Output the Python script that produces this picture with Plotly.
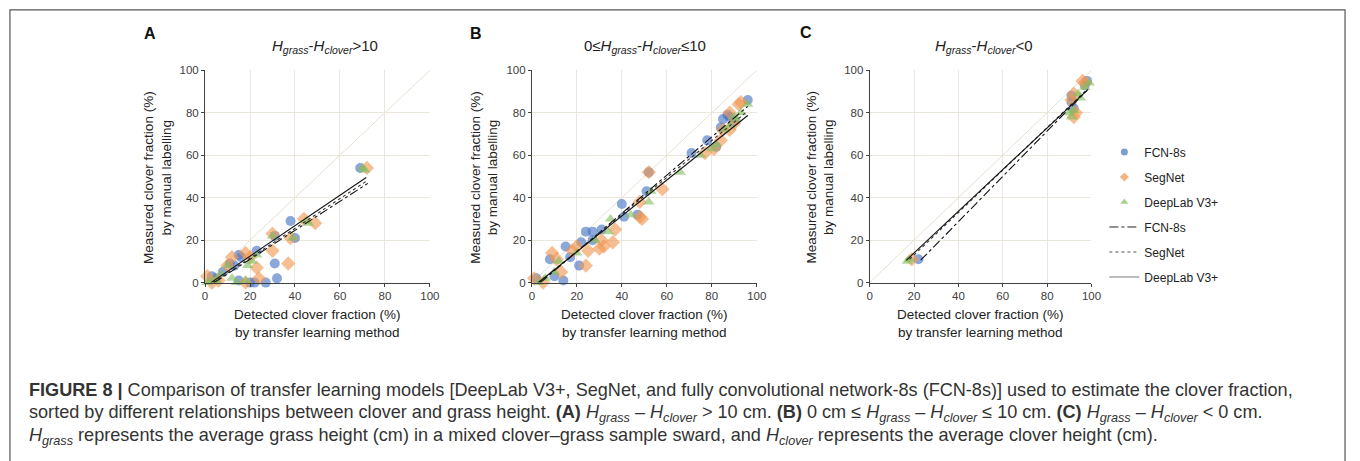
import plotly.graph_objects as go

W, H = 1360, 461

# ---------------- data ----------------
models = ["FCN-8s", "SegNet", "DeepLab V3+"]

# Panel A  (H_grass - H_clover > 10)
a_fcn_x = [69, 38, 40, 31, 31, 32, 27, 22, 15, 16, 15, 23, 11, 8, 3, 5, 20, 13]
a_fcn_y = [54, 29, 21, 22, 9, 2, 0, 0, 1, 12, 13, 15, 9, 5, 3, 2, 0, 8]
a_seg_x = [72, 44, 49, 37, 38, 30, 30, 23, 24, 18, 12, 1, 18, 6, 10, 20, 3]
a_seg_y = [54, 30, 28, 9, 21, 15, 23, 7, 2, 14, 12, 3, 0, 1, 8, 12, 0]
a_dl_x = [70, 71, 46, 45, 39, 30, 23, 19, 18, 10, 5, 1, 14, 12, 7, 3, 21]
a_dl_y = [54, 53, 28, 29, 21, 22, 13, 8, 1, 8, 1, 0, 0, 2, 4, 1, 10]

# Panel B  (0 <= H_grass - H_clover <= 10)
b_fcn_x = [96, 87, 85, 84, 78, 82, 71, 52, 51, 40, 41, 47, 27, 24, 22, 27, 31, 15, 8, 21, 14, 10, 2, 17, 88, 90]
b_fcn_y = [86, 79, 77, 73, 67, 64, 61, 52, 43, 37, 31, 32, 24, 24, 19, 20, 25, 17, 11, 8, 1, 3, 2, 12, 78, 76]
b_seg_x = [93, 88, 88, 84, 85, 77, 81, 52, 58, 48, 49, 48, 37, 36, 32, 30, 31, 25, 24, 18, 20, 9, 11, 13, 1, 5, 90, 92]
b_seg_y = [85, 80, 72, 67, 72, 61, 63, 52, 44, 31, 30, 38, 25, 19, 17, 16, 20, 15, 8, 15, 17, 14, 11, 5, 2, 0, 75, 84]
b_dl_x = [96, 90, 88, 86, 75, 80, 66, 52, 53, 44, 35, 34, 28, 20, 12, 10, 3, 6, 91, 93, 82]
b_dl_y = [84, 78, 74, 72, 60, 63, 52, 38, 43, 32, 30, 24, 20, 14, 10, 5, 0, 2, 77, 80, 65]

# Panel C  (H_grass - H_clover < 0)
c_fcn_x = [22, 91, 91, 92, 98, 97]
c_fcn_y = [11, 88, 85, 82, 95, 93]
c_seg_x = [19, 92, 93, 92, 96, 97, 91]
c_seg_y = [11, 89, 80, 78, 95, 94, 86]
c_dl_x = [17, 18, 91, 92, 94, 95, 99, 97, 90]
c_dl_y = [10, 11, 78, 81, 89, 87, 94, 92, 80]

# linear fits: slope, intercept, x start, x end  (order: FCN, SegNet, DeepLab)
a_fit_slope = [0.683, 0.700, 0.716]
a_fit_icpt = [-2.7, -2.45, -1.86]
a_fit_x0 = [4.0, 3.5, 2.6]
a_fit_x1 = [72.4, 72.0, 71.7]

b_fit_slope = [0.90, 0.87, 0.845]
b_fit_icpt = [-3.4, -2.7, -2.4]
b_fit_x0 = [3.8, 3.2, 2.9]
b_fit_x1 = [96.0, 96.0, 96.0]

c_fit_slope = [1.067, 1.0, 0.982]
c_fit_icpt = [-14.0, -7.0, -5.7]
c_fit_x0 = [23.0, 18.0, 16.5]
c_fit_x1 = [98.0, 98.0, 98.5]

ticks = [0, 20, 40, 60, 80, 100]
panel_letters = ["A", "B", "C"]
panel_titles = [
    "<i>H</i><sub><i>grass</i></sub>-<i>H</i><sub><i>clover</i></sub>&gt;10",
    "0≤<i>H</i><sub><i>grass</i></sub>-<i>H</i><sub><i>clover</i></sub>≤10",
    "<i>H</i><sub><i>grass</i></sub>-<i>H</i><sub><i>clover</i></sub>&lt;0",
]
x_title = "Detected clover fraction (%)<br>by transfer learning method"
y_title = "Measured clover fraction (%)<br>by manual labelling"

caption_lines = [
    "<b>FIGURE 8 |</b> Comparison of transfer learning models [DeepLab V3+, SegNet, and fully convolutional network-8s (FCN-8s)] used to estimate the clover fraction,",
    "sorted by different relationships between clover and grass height. <b>(A)</b> <i>H<sub>grass</sub></i> – <i>H<sub>clover</sub></i> &gt; 10 cm. "
    "<b>(B)</b> 0 cm ≤ <i>H<sub>grass</sub></i> – <i>H<sub>clover</sub></i> ≤ 10 cm. <b>(C)</b> <i>H<sub>grass</sub></i> – <i>H<sub>clover</sub></i> &lt; 0 cm.",
    "<i>H<sub>grass</sub></i> represents the average grass height (cm) in a mixed clover–grass sample sward, and <i>H<sub>clover</sub></i> represents the average clover height (cm).",
]

# ---------------- styles ----------------
FONT = "Liberation Sans, Arial, sans-serif"
marker_colors = ["rgba(70,114,196,0.62)", "rgba(240,150,80,0.62)", "rgba(130,190,95,0.62)"]
legend_marker_colors = ["rgba(70,114,196,0.7)", "rgba(240,150,80,0.7)", "rgba(130,190,95,0.7)"]
symbols = ["circle", "diamond", "triangle-up"]
msizes = [10, 11, 10]
dashes = ["dashdot", "dot", "solid"]
line_colors = ["#111111", "#333333", "#111111"]
legend_line_colors = ["#222222", "#555555", "#777777"]

# plot areas in pixels (left, right, top, bottom)
areas = [(204, 431), (534, 761), (875, 1099)]
top_px, bot_px = 66, 284

fig = go.Figure()

panels = [
    ([a_fcn_x, a_seg_x, a_dl_x], [a_fcn_y, a_seg_y, a_dl_y], a_fit_slope, a_fit_icpt, a_fit_x0, a_fit_x1),
    ([b_fcn_x, b_seg_x, b_dl_x], [b_fcn_y, b_seg_y, b_dl_y], b_fit_slope, b_fit_icpt, b_fit_x0, b_fit_x1),
    ([c_fcn_x, c_seg_x, c_dl_x], [c_fcn_y, c_seg_y, c_dl_y], c_fit_slope, c_fit_icpt, c_fit_x0, c_fit_x1),
]

for p, (xs, ys, sl, ic, x0s, x1s) in enumerate(panels):
    xa = "x" if p == 0 else f"x{p+1}"
    ya = "y" if p == 0 else f"y{p+1}"
    # 1:1 reference line
    fig.add_trace(go.Scatter(x=[0, 100], y=[0, 100], mode="lines", xaxis=xa, yaxis=ya,
                             line=dict(color="#e6e1d3", width=1), showlegend=False, hoverinfo="skip"))
    for m in range(3):
        fig.add_trace(go.Scatter(
            x=xs[m], y=ys[m], mode="markers", xaxis=xa, yaxis=ya, name=models[m],
            legendgroup=f"pts{m}", showlegend=False, cliponaxis=False,
            marker=dict(symbol=symbols[m], size=msizes[m], color=marker_colors[m], line=dict(width=0)),
        ))
    for m in range(3):
        fx = [x0s[m], x1s[m]]
        fy = [sl[m] * v + ic[m] for v in fx]
        fig.add_trace(go.Scatter(
            x=fx, y=fy, mode="lines", xaxis=xa, yaxis=ya, name=models[m],
            legendgroup=f"fit{m}", showlegend=False,
            line=dict(color=line_colors[m], width=1.1, dash=dashes[m]),
        ))

# legend entries (small symbols and thin lines as in the reference legend)
for m in range(3):
    fig.add_trace(go.Scatter(x=[None], y=[None], mode="markers", name=models[m], xaxis="x3", yaxis="y3",
                             legendgroup=f"pts{m}", showlegend=True,
                             marker=dict(symbol=symbols[m], size=7, color=legend_marker_colors[m], line=dict(width=0))))
for m in range(3):
    fig.add_trace(go.Scatter(x=[None], y=[None], mode="lines", name=models[m], xaxis="x3", yaxis="y3",
                             legendgroup=f"fit{m}", showlegend=True,
                             line=dict(color=legend_line_colors[m], width=1, dash=dashes[m])))


def px(v):
    return v / W


def py(v):
    return 1 - v / H


axis_common = dict(
    range=[0, 100], tickvals=ticks, showgrid=True, gridcolor="#ebe7dc", gridwidth=1,
    zeroline=False, showline=True, linecolor="#404040", linewidth=1,
    ticks="outside", ticklen=3, tickcolor="#404040",
    tickfont=dict(family=FONT, size=11.5, color="#404040"), fixedrange=True,
)

layout_axes = {}
for p, (l, r) in enumerate(areas):
    sx = "xaxis" if p == 0 else f"xaxis{p+1}"
    sy = "yaxis" if p == 0 else f"yaxis{p+1}"
    ya = "y" if p == 0 else f"y{p+1}"
    xa = "x" if p == 0 else f"x{p+1}"
    layout_axes[sx] = dict(axis_common, domain=[px(l), px(r)], anchor=ya)
    layout_axes[sy] = dict(axis_common, domain=[py(bot_px), py(top_px)], anchor=xa)

annotations = []
letter_pos = [(148, 28), (478, 28), (811, 27)]
title_pos = [(325, 42), (648, 42), (990, 42)]
ytitle_x = [156, 486, 825]
xtitle_x = [318, 648, 987]
for p in range(3):
    annotations.append(dict(text=f"<b>{panel_letters[p]}</b>", x=px(letter_pos[p][0]), y=py(letter_pos[p][1]),
                            xref="paper", yref="paper", showarrow=False, xanchor="center", yanchor="middle",
                            font=dict(family=FONT, size=16, color="#111111")))
    annotations.append(dict(text=panel_titles[p], x=px(title_pos[p][0]), y=py(title_pos[p][1]),
                            xref="paper", yref="paper", showarrow=False, xanchor="center", yanchor="middle",
                            font=dict(family=FONT, size=15, color="#222222")))
    annotations.append(dict(text=y_title, x=px(ytitle_x[p]), y=py(176), textangle=-90,
                            xref="paper", yref="paper", showarrow=False, xanchor="center", yanchor="middle",
                            font=dict(family=FONT, size=13.5, color="#222222")))
    annotations.append(dict(text=x_title, x=px(xtitle_x[p]), y=py(326),
                            xref="paper", yref="paper", showarrow=False, xanchor="center", yanchor="middle",
                            font=dict(family=FONT, size=13.5, color="#222222")))

cap_y = [394, 418, 442]
for i, line in enumerate(caption_lines):
    annotations.append(dict(text=line, x=px(24), y=py(cap_y[i]), xref="paper", yref="paper",
                            showarrow=False, xanchor="left", yanchor="middle", align="left",
                            font=dict(family=FONT, size=18.1, color="#333333")))

shapes = [dict(type="rect", xref="paper", yref="paper", x0=px(7), x1=px(1355), y0=-0.1, y1=py(4),
               line=dict(color="#555555", width=1.2), fillcolor="rgba(0,0,0,0)", layer="below")]

fig.update_layout(
    width=W, height=H, margin=dict(l=0, r=0, t=0, b=0),
    paper_bgcolor="white", plot_bgcolor="white",
    font=dict(family=FONT, color="#222222"),
    showlegend=True,
    legend=dict(x=px(1112), y=py(135), xanchor="left", yanchor="top",
                font=dict(family=FONT, size=12, color="#222222"),
                tracegroupgap=6, traceorder="grouped", itemsizing="trace",
                bgcolor="rgba(0,0,0,0)", itemwidth=30),
    annotations=annotations, shapes=shapes,
    **layout_axes,
)

fig.write_html(
    "out.html",
    config={"displayModeBar": False},
    post_script="document.body.style.margin='0';document.body.style.padding='0';document.body.style.overflow='hidden';",
)
